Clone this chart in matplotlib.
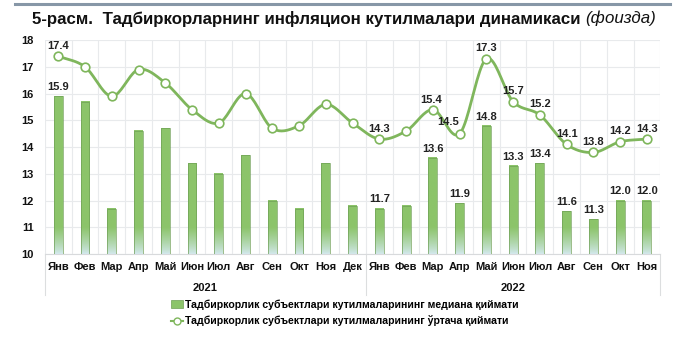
import numpy as np
import matplotlib
matplotlib.use("Agg")
import matplotlib.pyplot as plt
from matplotlib.patches import Rectangle
from matplotlib.lines import Line2D
from matplotlib.colors import to_rgb

plt.rcParams['font.family'] = ['Liberation Sans', 'DejaVu Sans']

months = ["Янв", "Фев", "Мар", "Апр", "Май", "Июн", "Июл", "Авг", "Сен", "Окт", "Ноя", "Дек",
          "Янв", "Фев", "Мар", "Апр", "Май", "Июн", "Июл", "Авг", "Сен", "Окт", "Ноя"]
years = ["2021", "2022"]
median = [15.9, 15.7, 11.7, 14.6, 14.7, 13.4, 13.0, 13.7, 12.0, 11.7, 13.4, 11.8,
          11.7, 11.8, 13.6, 11.9, 14.8, 13.3, 13.4, 11.6, 11.3, 12.0, 12.0]
mean = [17.4, 17.0, 15.9, 16.9, 16.4, 15.4, 14.9, 16.0, 14.7, 14.8, 15.6, 14.9,
        14.3, 14.6, 15.4, 14.5, 17.3, 15.7, 15.2, 14.1, 13.8, 14.2, 14.3]
median_labeled = [0, 12, 14, 15, 16, 17, 18, 19, 20, 21, 22]
mean_labeled = [0, 12, 14, 15, 16, 17, 18, 19, 20, 21, 22]

title_main = "5-расм.  Тадбиркорларнинг инфляцион кутилмалари динамикаси "
title_unit = "(фоизда)"
legend_bar = "Тадбиркорлик субъектлари кутилмаларининг медиана қиймати"
legend_line = "Тадбиркорлик субъектлари кутилмаларининг ўртача қиймати"

GREEN = "#8cc46a"
GREEN_EDGE = "#6e9f55"
LINE = "#7fb65c"
BASE = "#d4e9ef"
GRID = "#e8eaec"
FS = 8

fig = plt.figure(figsize=(6.8, 3.37), dpi=100)
ax = fig.add_axes([0.066, 0.246, 0.905, 0.635])

n = len(months)
x = np.arange(n)
ymin, ymax = 10, 18
w = 0.33

# bars with a soft fade towards the baseline
g = np.array(to_rgb(GREEN))
b = np.array(to_rgb(BASE))
for xi, v in zip(x, median):
    ys = np.linspace(ymin, v, 200)
    t = np.clip((ys - ymin) / 1.0, 0, 1) ** 0.8
    col = b[None, :] * (1 - t[:, None]) + g[None, :] * t[:, None]
    img = np.repeat(col[:, None, :], 2, axis=1)
    ax.imshow(img, extent=[xi - w / 2, xi + w / 2, ymin, v], origin="lower",
              aspect="auto", zorder=2, interpolation="bilinear")
    ax.add_patch(Rectangle((xi - w / 2, ymin), w, v - ymin, fill=False,
                           edgecolor=GREEN_EDGE, lw=0.6, alpha=0.8, zorder=3))

# smoothed line through the mean values (Catmull-Rom drawing)
def catmull_rom(px, py, steps=20):
    px = np.asarray(px, float)
    py = np.asarray(py, float)
    P = np.column_stack([px, py])
    P = np.vstack([2 * P[0] - P[1], P, 2 * P[-1] - P[-2]])
    out = []
    for i in range(1, len(P) - 2):
        p0, p1, p2, p3 = P[i - 1], P[i], P[i + 1], P[i + 2]
        tt = np.linspace(0, 1, steps, endpoint=False)[:, None]
        seg = 0.5 * ((2 * p1) + (-p0 + p2) * tt + (2 * p0 - 5 * p1 + 4 * p2 - p3) * tt ** 2
                     + (-p0 + 3 * p1 - 3 * p2 + p3) * tt ** 3)
        out.append(seg)
    out.append(P[-2][None, :])
    out = np.vstack(out)
    return out[:, 0], out[:, 1]

sx, sy = catmull_rom(x, mean)
ax.plot(sx, sy, color=LINE, lw=2.0, zorder=4, solid_capstyle="round")
ax.plot(x, mean, ls="none", marker="o", ms=6.2, mfc="white", mec=LINE, mew=1.2, zorder=5)

lab_kw = dict(fontsize=FS, fontweight="bold", color="#222222", ha="center", va="bottom",
              zorder=6)
for i in median_labeled:
    ax.annotate(f"{median[i]:.1f}", (x[i], median[i]), xytext=(0, 3),
                textcoords="offset points", **lab_kw)
offsets = {15: (-8, 5), 14: (-1, 3)}
for i in mean_labeled:
    dx, dy = offsets.get(i, (0, 4))
    ax.annotate(f"{mean[i]:.1f}", (x[i], mean[i]), xytext=(dx, dy),
                textcoords="offset points", **lab_kw)

ax.set_xlim(-0.5, n - 0.5)
ax.set_ylim(ymin, ymax)
ax.set_yticks(np.arange(ymin, ymax + 1, 1))
ax.set_xticks(x)
ax.set_xticklabels(months)
ax.set_xticks(np.arange(-0.5, n, 1), minor=True)
ax.grid(True, which="minor", axis="x", color=GRID, lw=0.8, zorder=0)
ax.grid(True, which="major", axis="y", color=GRID, lw=0.8, zorder=0)
ax.tick_params(axis="both", which="both", length=0, labelsize=FS)
ax.tick_params(axis="y", pad=8)
ax.tick_params(axis="x", pad=6)
for lbl in ax.get_xticklabels() + ax.get_yticklabels():
    lbl.set_fontweight("bold")
    lbl.set_color("#111111")
for s in ["top", "right", "left"]:
    ax.spines[s].set_visible(False)
ax.spines["bottom"].set_color("#d8dadc")
ax.set_axisbelow(True)

# year row with separators
trans = ax.get_xaxis_transform()
for xs in [-0.5, 11.5, n - 0.5]:
    ax.plot([xs, xs], [0, -0.19], transform=trans, color="#dcdedf", lw=0.8, clip_on=False)
ax.text(5.5, -0.16, years[0], transform=trans, ha="center", va="center",
        fontsize=FS, fontweight="bold", color="#111111")
ax.text(17, -0.16, years[1], transform=trans, ha="center", va="center",
        fontsize=FS, fontweight="bold", color="#111111")

# title and frame line
fig.add_artist(Line2D([0.022, 0.985], [0.988, 0.988], color="#8797a7", lw=2.2))
t1 = fig.text(0.047, 0.945, title_main, fontsize=12.2, fontweight="bold", color="#111111",
              va="center", ha="left")
fig.canvas.draw()
bb = t1.get_window_extent()
fig.text(bb.x1 / fig.bbox.width, 0.945, title_unit, fontsize=12.2, fontstyle="italic",
         color="#111111", va="center", ha="left")

# legend
handles = [Rectangle((0, 0), 1, 1, facecolor=GREEN, edgecolor=GREEN_EDGE, lw=0.5),
           Line2D([], [], color=LINE, lw=1.5, marker="o", ms=5, mfc="white", mec=LINE)]
fig.legend(handles, [legend_bar, legend_line], loc="upper left",
           bbox_to_anchor=(0.245, 0.125), frameon=False, handlelength=1.2,
           handletextpad=0.15, labelspacing=0.55, borderaxespad=0,
           prop={"size": 7.6, "weight": "bold"})

fig.savefig("out.png", dpi=100, facecolor="white")
